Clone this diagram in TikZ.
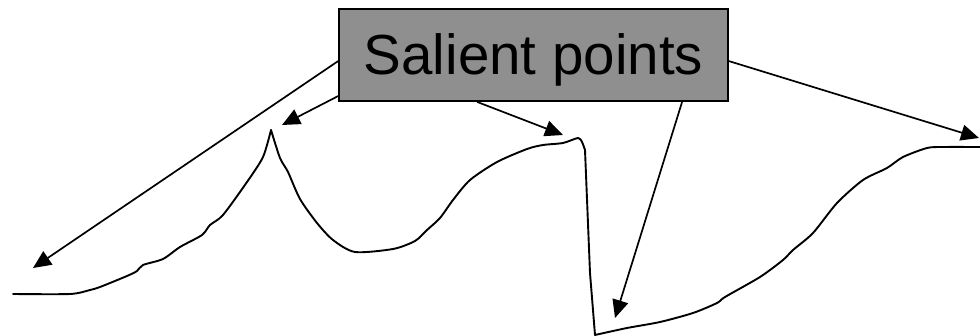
\documentclass[tikz,border=0pt]{standalone}
\usepackage{fontspec}
\setmainfont{Liberation Sans}
\usetikzlibrary{arrows.meta,calc}
\definecolor{boxgray}{HTML}{8F8F8F}
\tikzset{
  labelbox/.style={draw=black, line width=1.8pt, fill=boxgray, inner sep=0pt,
    minimum width=389pt, minimum height=92pt, font=\fontsize{56.5}{60}\selectfont,
    text height=52pt, text depth=12pt},
  pointer/.style={line width=1.7pt, -{Triangle[length=18pt,width=16pt]}},
  trace/.style={line width=1.9pt, line join=round, line cap=round}
}
\begin{document}
\begin{tikzpicture}[x=1pt,y=-1pt]
\useasboundingbox (0,0) rectangle (980,336);
% trace
\draw[trace] plot[smooth,tension=0.45] coordinates {(13,294) (70,294) (90,290) (100,287) (127,276) (137,271) (143,265) (163,259) (180,247) (202,235) (210,225) (223,215) (247,182) (263,157) (271,130)};
\draw[trace] plot[smooth,tension=0.45] coordinates {(271,130) (280,158) (288,172) (300,199) (317,223) (333,240) (355,252) (393,249) (415,241) (427,230) (440,218) (453,200) (470,180) (497,162) (527,149) (543,145) (563,143) (578,138) (582,142) (585,150)} -- (590,273) -- (595,335);
\draw[trace] plot[smooth,tension=0.45] coordinates {(595,335) (627,328) (660,322) (693,313) (717,303) (725,297) (760,277) (783,260) (793,250) (813,233) (837,203) (863,180) (887,168) (903,157) (927,148) (943,147) (980,147)};
% box
\node[labelbox] (box) at (533.5,55) {Salient points};
% targets
\coordinate (t1) at (33,268);
\coordinate (t2) at (282,125);
\coordinate (t3) at (563,135);
\coordinate (t4) at (615,318);
\coordinate (t5) at (979,138);
\draw[pointer] ($(box.north west)+(0,53)$) -- (t1);
\draw[pointer] ($(box.north west)+(0,88)$) -- (t2);
\draw[pointer] ($(box.south west)+(139,0)$) -- (t3);
\draw[pointer] ($(box.south west)+(344,0)$) -- (t4);
\draw[pointer] ($(box.north east)+(0,53)$) -- (t5);
\end{tikzpicture}
\end{document}
